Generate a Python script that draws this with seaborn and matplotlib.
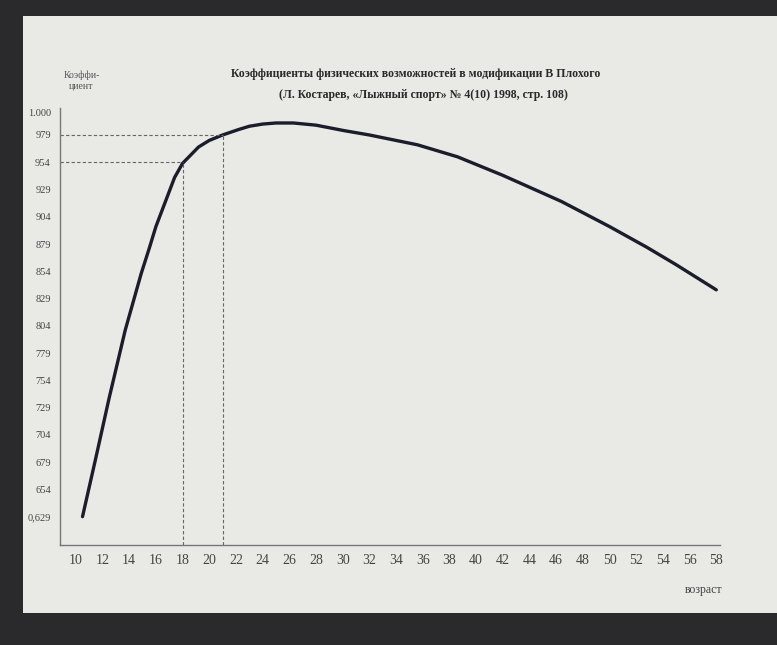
import numpy as np
import pandas as pd
import seaborn as sns
import matplotlib.pyplot as plt
from matplotlib.patches import Rectangle

ages = [10.5, 11.5, 12.5, 13.7, 14.9, 15.5, 16.0, 17.4, 18.0, 19.2, 20.0, 21.0,
        22.2, 23.0, 24.0, 25.0, 26.3, 28.0, 30.1, 32.0, 35.6, 38.6, 42.0, 46.4,
        50.0, 52.8, 55.0, 58.0]
coefs = [0.629, 0.683, 0.738, 0.800, 0.852, 0.875, 0.895, 0.940, 0.953, 0.968, 0.974, 0.979,
         0.984, 0.987, 0.989, 0.990, 0.990, 0.988, 0.983, 0.979, 0.970, 0.959, 0.942, 0.918,
         0.895, 0.876, 0.860, 0.837]

mark_ages = [18, 21]
mark_coefs = [0.954, 0.979]

y_ticks = [0.629, 0.654, 0.679, 0.704, 0.729, 0.754, 0.779, 0.804, 0.829,
           0.854, 0.879, 0.904, 0.929, 0.954, 0.979, 1.000]
y_labels = ['0,629', '654', '679', '704', '729', '754', '779', '804', '829',
            '854', '879', '904', '929', '954', '979', '1.000']
x_ticks = list(range(10, 59, 2))

title_1 = 'Коэффициенты физических возможностей в модификации В Плохого'
title_2 = '(Л. Костарев, «Лыжный спорт» № 4(10) 1998, стр. 108)'

df = pd.DataFrame({'age': ages, 'coef': coefs})

sns.set_style('white')
plt.rcParams['font.family'] = ['Liberation Serif', 'DejaVu Serif']

fig = plt.figure(figsize=(7.77, 6.45), dpi=100)
fig.patch.set_facecolor('#2a2a2c')
# the sheet of paper in the photo
fig.patches.append(Rectangle((0.03, 0.05), 0.97, 0.925, transform=fig.transFigure,
                             facecolor='#e9e9e6', edgecolor='none', zorder=-10))

ax = fig.add_axes([0.077, 0.155, 0.85, 0.678])
ax.set_facecolor('#e9e9e6')

sns.lineplot(data=df, x='age', y='coef', color='#1c1c2a', linewidth=2.4, ax=ax,
             solid_capstyle='round', solid_joinstyle='round')

x0, y0 = 8.8, 0.603
for a, c in zip(mark_ages, mark_coefs):
    ax.hlines(c, x0, a, colors='#666666', linestyles=(0, (3, 2)), linewidth=0.8)
    ax.vlines(a, y0, c, colors='#666666', linestyles=(0, (3, 2)), linewidth=0.8)

ax.set_xlim(x0, 58.3)
ax.set_ylim(y0, 1.004)
ax.set_xticks(x_ticks)
ax.set_xticklabels([str(t) for t in x_ticks], fontsize=10, color='#333333')
ax.set_yticks(y_ticks)
ax.set_yticklabels(y_labels, fontsize=7.5, color='#555555')
ax.tick_params(axis='both', direction='out', length=3, width=0.8, colors='#777777',
               labelcolor='#444444')
ax.set_xlabel('')
ax.set_ylabel('')
sns.despine(ax=ax)
for s in ['left', 'bottom']:
    ax.spines[s].set_color('#777777')
    ax.spines[s].set_linewidth(1.0)

fig.text(0.535, 0.885, title_1, ha='center', va='center', fontsize=8.5,
         fontweight='bold', color='#2a2a2a')
fig.text(0.545, 0.852, title_2, ha='center', va='center', fontsize=8.5,
         fontweight='bold', color='#2a2a2a')
fig.text(0.105, 0.875, 'Коэффи-\nциент', ha='center', va='center', fontsize=7,
         color='#555555', linespacing=1.3)
fig.text(0.905, 0.085, 'возраст', ha='center', va='center', fontsize=8.5,
         color='#444444')

fig.savefig('out.png', dpi=100, facecolor=fig.get_facecolor())
